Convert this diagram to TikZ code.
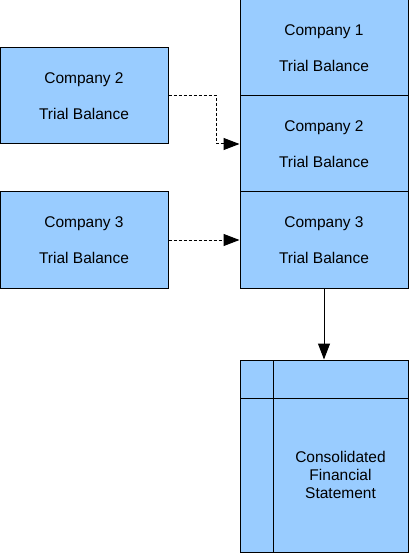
\documentclass[tikz,border=0pt]{standalone}
\usepackage{fontspec}
\setmainfont{Liberation Sans}
\usetikzlibrary{positioning,arrows.meta}
\definecolor{boxblue}{HTML}{99CCFF}
\tikzset{
  tb/.style={draw,line width=1pt,fill=boxblue,minimum width=168pt,minimum height=96pt,
    inner sep=0pt,align=center,font=\fontsize{15.5pt}{18pt}\selectfont},
  link/.style={line width=1pt,-{Triangle[length=16pt,width=12pt]}},
  dlink/.style={link,dash pattern=on 3pt off 2pt},
}
\begin{document}
\begin{tikzpicture}[x=1pt,y=-1pt]
		\useasboundingbox (0,0) rectangle (409,553);

		% Stacked trial balances
		\node[tb] (rc1) at (324,48) {Company 1\\[18pt]Trial Balance};
		\node[tb] (rc2) at (324,144) {Company 2\\[18pt]Trial Balance};
		\node[tb] (rc3) at (324,240) {Company 3\\[18pt]Trial Balance};

		% Subsidiaries
		\node[tb] (lc2) at (84,96) {Company 2\\[18pt]Trial Balance};
		\node[tb] (lc3) at (84,240) {Company 3\\[18pt]Trial Balance};

		% Consolidated statement
		\node[tb,minimum height=192pt] (cfs) at (324,456) {};
		\draw[line width=1pt] (273,360) -- (273,552);
		\draw[line width=1pt] (240,398) -- (408,398);
		\node[align=center,font=\fontsize{15.5pt}{18pt}\selectfont] (cfstext) at (340.5,475)
			{Consolidated\\Financial\\Statement};

		% Connectors
		\draw[dlink] (lc2.east) -- ++(48,0) |- (rc2.west);
		\draw[dlink] (lc3.east) -- (rc3.west);
		\draw[link] (rc3.south) -- (cfs.north);
	\end{tikzpicture}
\end{document}
